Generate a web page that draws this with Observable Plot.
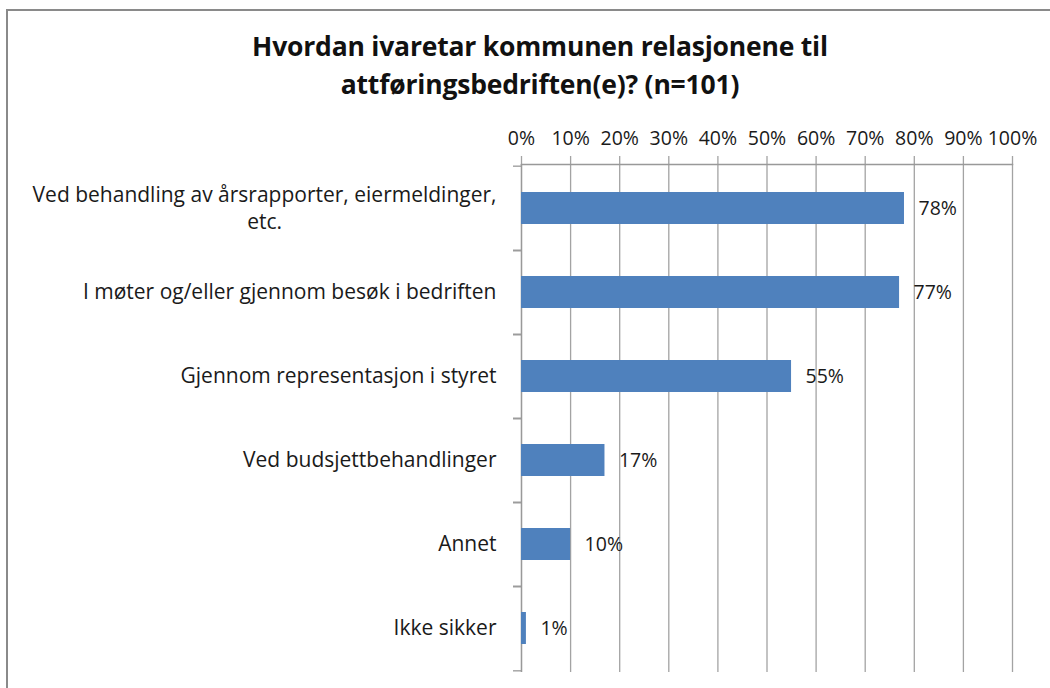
<!DOCTYPE html>
<html>
<head>
<meta charset="utf-8">
<script src="https://cdn.jsdelivr.net/npm/d3@7"></script>
<script src="https://cdn.jsdelivr.net/npm/@observablehq/plot@0.6"></script>
<style>
  html, body { margin: 0; padding: 0; background: #fff; }
  #wrap { position: relative; width: 1050px; height: 688px; overflow: hidden; background: #fff; }
  #border { position: absolute; left: 6px; top: 9px; width: 1100px; height: 760px; border: 2px solid #8a8a8a; box-sizing: border-box; pointer-events: none; z-index: 2; }
  #title { position: absolute; left: 190px; width: 700px; top: 27px; text-align: center; font-family: "Open Sans", sans-serif; font-weight: bold; font-size: 26.5px; line-height: 38px; color: #111; z-index: 1; letter-spacing: -0.2px; }
  #chart { position: absolute; left: 0; top: 0; }
</style>
</head>
<body>
<div id="wrap">
  <div id="border"></div>
  <div id="title"></div>
  <div id="chart"></div>
</div>
<script>
const titleLines = ["Hvordan ivaretar kommunen relasjonene til", "attføringsbedriften(e)? (n=101)"];
const categories = [
  "Ved behandling av årsrapporter, eiermeldinger,\netc.",
  "I møter og/eller gjennom besøk i bedriften",
  "Gjennom representasjon i styret",
  "Ved budsjettbehandlinger",
  "Annet",
  "Ikke sikker"
];
const values = [78, 77, 55, 17, 10, 1];
const xTicks = [0, 10, 20, 30, 40, 50, 60, 70, 80, 90, 100];

const data = categories.map((label, i) => ({label, value: values[i]}));

document.getElementById("title").innerHTML = titleLines.join("<br>");

const W = 1050, H = 688;
const mTop = 164, mBottom = 16, mLeft = 521, mRight = 38;
const step = (H - mTop - mBottom) / categories.length;
const gridColor = "#a3a3a3";
const axisColor = "#999999";
const barColor = "#4F81BD";
const textColor = "#1a1a1a";
const font = "'Open Sans', sans-serif";

const chart = Plot.plot({
  width: W,
  height: H,
  marginTop: mTop,
  marginBottom: mBottom,
  marginLeft: mLeft,
  marginRight: mRight,
  style: {fontFamily: font, fontSize: "19.5px", color: textColor, background: "transparent", overflow: "visible"},
  x: {domain: [0, 100], label: null},
  y: {domain: categories, paddingInner: 0.614, paddingOuter: 0.307, label: null},
  marks: [
    Plot.gridX({ticks: xTicks, stroke: gridColor, strokeOpacity: 1, strokeWidth: 1.3}),
    Plot.axisX({anchor: "top", ticks: xTicks, tickSize: 9, tickPadding: 11, tickFormat: d => d + "%", stroke: gridColor, strokeOpacity: 1, strokeWidth: 1.3, fill: textColor, fontSize: 19.5, label: null}),
    Plot.frame({anchor: "top", stroke: axisColor, strokeWidth: 1.3}),
    Plot.ruleX([0], {stroke: axisColor, strokeWidth: 1.3}),
    Plot.axisY({tickSize: 8, tickFormat: () => "", dy: -step / 2, stroke: axisColor, strokeWidth: 1.3, label: null}),
    Plot.axisY({tickSize: 8, tickFormat: () => "", dy: step / 2, stroke: axisColor, strokeWidth: 1.3, label: null}),
    Plot.barX(data, {x: "value", y: "label", fill: barColor}),
    Plot.axisY({tickSize: 0, tickPadding: 25, fontSize: 21, lineHeight: 1.3, dy: -2, fill: textColor, label: null}),
    Plot.text(data, {x: "value", y: "label", text: d => d.value + "%", dx: 14, textAnchor: "start", fontSize: 19.5, fill: textColor})
  ]
});

document.getElementById("chart").appendChild(chart);

function centerMultiline() {
  chart.querySelectorAll("text").forEach(t => {
    const spans = t.querySelectorAll("tspan");
    if (spans.length > 1) {
      const widths = Array.from(spans, s => s.getComputedTextLength());
      const maxW = Math.max(...widths);
      t.setAttribute("text-anchor", "middle");
      spans.forEach(s => s.setAttribute("x", -maxW / 2));
    }
  });
}
centerMultiline();
if (document.fonts && document.fonts.ready) document.fonts.ready.then(centerMultiline);
</script>
</body>
</html>
